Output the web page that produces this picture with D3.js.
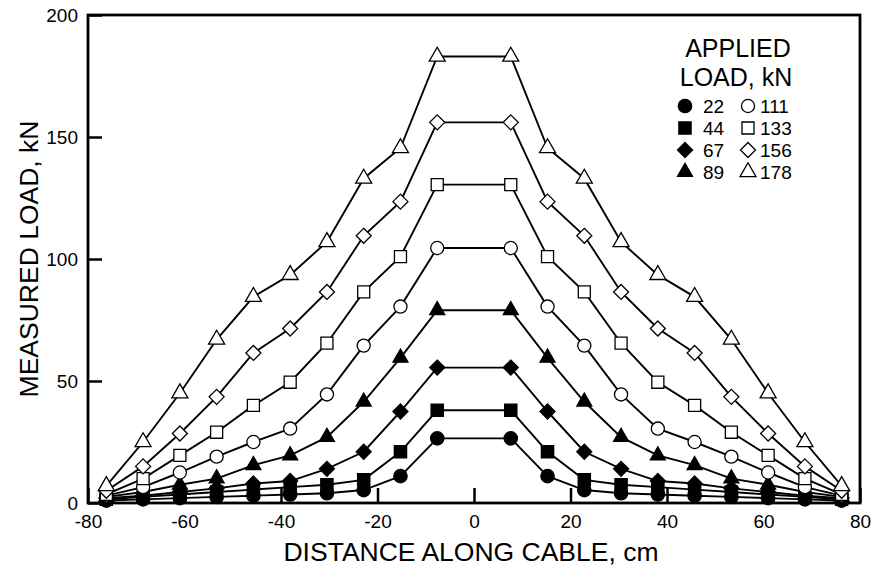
<!DOCTYPE html>
<html>
<head>
<meta charset="utf-8">
<script src="https://cdn.jsdelivr.net/npm/d3@7"></script>
<style>
  html, body { margin: 0; padding: 0; background: #fff; }
  svg { display: block; font-family: "Liberation Sans", Arial, sans-serif; }
</style>
</head>
<body>
<svg id="chart" width="873" height="571"></svg>
<script>
// ---- data ----
const distances = [-76.2, -68.58, -60.96, -53.34, -45.72, -38.1, -30.48, -22.86, -15.24, -7.62,
                   7.62, 15.24, 22.86, 30.48, 38.1, 45.72, 53.34, 60.96, 68.58, 76.2];
const appliedLoads = [22, 44, 67, 89, 111, 133, 156, 178];
const symbolsFor = ["circle", "square", "diamond", "triangle", "circle", "square", "diamond", "triangle"];
const filledFor = [true, true, true, true, false, false, false, false];

const load22  = [1, 1.5, 2, 2.5, 3, 3.5, 4, 5.3, 11, 26.5, 26.5, 11, 5.3, 4, 3.5, 3, 2.5, 2, 1.5, 1];
const load44  = [1.5, 2.5, 3.5, 4.5, 5.5, 6.5, 7.5, 9.5, 21, 38, 38, 21, 9.5, 7.5, 6.5, 5.5, 4.5, 3.5, 2.5, 1.5];
const load67  = [2, 3, 4.5, 6, 8, 9, 14, 21, 37.5, 55.5, 55.5, 37.5, 21, 14, 9, 8, 6, 4.5, 3, 2];
const load89  = [2.5, 4.5, 7.5, 10, 15.5, 19.5, 27, 41.5, 59.5, 79, 79, 59.5, 41.5, 27, 19.5, 15.5, 10, 7.5, 4.5, 2.5];
const load111 = [3, 6.5, 12.5, 19, 25, 30.5, 44.5, 64.5, 80.5, 104.5, 104.5, 80.5, 64.5, 44.5, 30.5, 25, 19, 12.5, 6.5, 3];
const load133 = [3.5, 10, 19.5, 29, 40, 49.5, 65.5, 86.5, 101, 130.5, 130.5, 101, 86.5, 65.5, 49.5, 40, 29, 19.5, 10, 3.5];
const load156 = [5, 15, 28.5, 43.5, 61.5, 71.5, 86.5, 109.5, 123.5, 156, 156, 123.5, 109.5, 86.5, 71.5, 61.5, 43.5, 28.5, 15, 5];
const load178 = [7, 25, 45, 67, 84.5, 93.5, 107, 133, 145.5, 183, 183, 145.5, 133, 107, 93.5, 84.5, 67, 45, 25, 7];
const seriesValues = [load22, load44, load67, load89, load111, load133, load156, load178];

const xTicks = [-80, -60, -40, -20, 0, 20, 40, 60, 80];
const yTicks = [0, 50, 100, 150, 200];

// ---- layout ----
const svg = d3.select("#chart");
const L = 88, R = 860, T = 15, B = 503;
const x = d3.scaleLinear().domain([-80, 80]).range([L, R]);
const y = d3.scaleLinear().domain([0, 200]).range([B, T]);

const fmt = d => String(d);
const xAxis = d3.axisBottom(x).tickValues(xTicks).tickFormat(fmt).tickSizeInner(-15).tickSizeOuter(0);
const yAxis = d3.axisLeft(y).tickValues(yTicks).tickFormat(fmt).tickSizeInner(-14).tickSizeOuter(0).tickPadding(10);

const gx = svg.append("g").attr("transform", `translate(0,${B})`).call(xAxis);
const gy = svg.append("g").attr("transform", `translate(${L},0)`).call(yAxis);
[gx, gy].forEach(g => {
  g.select(".domain").remove();
  g.selectAll("line").attr("stroke", "#000").attr("stroke-width", 2.5);
  g.selectAll("text").attr("fill", "#000").style("font-size", "19px")
   .style("font-family", "'Liberation Sans', Arial, sans-serif");
});
gx.selectAll("text").attr("y", 12).attr("dy", "0.71em");

// frame
svg.append("rect").attr("x", L).attr("y", T).attr("width", R - L).attr("height", B - T)
  .attr("fill", "none").attr("stroke", "#000").attr("stroke-width", 2.8);

// axis titles
svg.append("text").attr("x", (L + R) / 2 - 3).attr("y", 561).attr("text-anchor", "middle")
  .style("font-size", "26.5px").text("DISTANCE ALONG CABLE, cm");
svg.append("text").attr("transform", `translate(38,${(T + B) / 2}) rotate(-90)`)
  .attr("text-anchor", "middle").style("font-size", "26.5px").text("MEASURED LOAD, kN");

// marker generator
function markerPath(type, filled) {
  if (type === "circle") return d3.symbol().type(d3.symbolCircle).size(filled ? 140 : 135)();
  if (type === "square") return d3.symbol().type(d3.symbolSquare).size(filled ? 150 : 145)();
  if (type === "diamond") {
    const r = 7.5;
    return `M0,${-r}L${r},0L0,${r}L${-r},0Z`;
  }
  if (type === "triangle") {
    const w = filled ? 15 : 16, h = w * 0.87;
    return `M0,${-h * 2 / 3}L${w / 2},${h / 3}L${-w / 2},${h / 3}Z`;
  }
}

const line = d3.line().x((d, i) => x(distances[i])).y(d => y(d));

const plot = svg.append("g");
seriesValues.forEach(vals => {
  plot.append("path").attr("d", line(vals)).attr("fill", "none")
    .attr("stroke", "#000").attr("stroke-width", 1.9);
});
seriesValues.forEach((vals, s) => {
  const p = markerPath(symbolsFor[s], filledFor[s]);
  plot.append("g").selectAll("path").data(vals).join("path")
    .attr("d", p)
    .attr("transform", (d, i) => `translate(${x(distances[i])},${y(d)})`)
    .attr("fill", filledFor[s] ? "#000" : "#fff")
    .attr("stroke", "#000").attr("stroke-width", 1.3);
});

// legend
const lg = svg.append("g");
lg.append("text").attr("x", 738).attr("y", 57).attr("text-anchor", "middle")
  .style("font-size", "25px").text("APPLIED");
lg.append("text").attr("x", 736).attr("y", 86).attr("text-anchor", "middle")
  .style("font-size", "25px").text("LOAD, kN");
appliedLoads.forEach((load, s) => {
  const col = s < 4 ? 0 : 1, row = s % 4;
  const mx = col === 0 ? 685 : 748, cy = 106 + row * 22;
  lg.append("path").attr("d", markerPath(symbolsFor[s], filledFor[s]))
    .attr("transform", `translate(${mx},${cy})`)
    .attr("fill", filledFor[s] ? "#000" : "#fff")
    .attr("stroke", "#000").attr("stroke-width", 1.3);
  lg.append("text").attr("x", mx + (col === 0 ? 18 : 12)).attr("y", cy + 7)
    .style("font-size", "19px").text(load);
});
</script>
</body>
</html>
